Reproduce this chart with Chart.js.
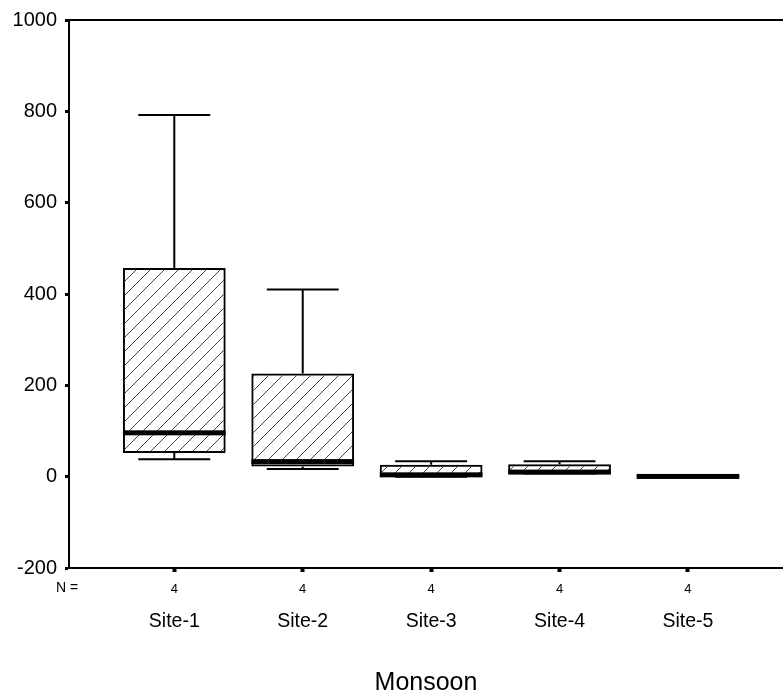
<!DOCTYPE html>
<html>
<head>
<meta charset="utf-8">
<script src="https://cdn.jsdelivr.net/npm/chart.js@4.4.1/dist/chart.umd.min.js"></script>
<style>
  body { margin: 0; background: #fff; }
  canvas { display: block; }
</style>
</head>
<body>
<canvas id="boxChart" width="783" height="696"></canvas>
<script>
// box plot values per site
const sites = ['Site-1', 'Site-2', 'Site-3', 'Site-4', 'Site-5'];
const nCounts = [4, 4, 4, 4, 4];
const whiskerLow = [38, 17, 0, 7, 0];
const q1 = [52, 22, 1, 8, 0];
const median = [96, 33, 4, 10, 0.5];
const q3 = [457, 226, 26, 27, 1];
const whiskerHigh = [792, 410, 34, 34, 1.5];
const yMin = -200, yMax = 1000, yStep = 200;
const xTitle = 'Monsoon';

function hatchPattern() {
  const c = document.createElement('canvas');
  c.width = c.height = 14;
  const g = c.getContext('2d');
  g.strokeStyle = '#444';
  g.lineWidth = 1;
  g.beginPath();
  g.moveTo(0, 14); g.lineTo(14, 0);
  g.moveTo(-7, 7); g.lineTo(7, -7);
  g.moveTo(7, 21); g.lineTo(21, 7);
  g.stroke();
  return g.createPattern(c, 'repeat');
}

// whiskers, caps, medians, top frame line and the "N =" label
const boxExtras = {
  id: 'boxExtras',
  beforeDatasetsDraw(chart) {
    const {ctx, chartArea} = chart;
    const y = chart.scales.y;
    const meta = chart.getDatasetMeta(0);
    ctx.save();
    ctx.strokeStyle = '#000';
    ctx.lineWidth = 2;
    meta.data.forEach((bar, i) => {
      const capHalf = bar.width * 0.35;
      const yHi = y.getPixelForValue(whiskerHigh[i]);
      const yLo = y.getPixelForValue(whiskerLow[i]);
      ctx.beginPath();
      ctx.moveTo(bar.x, y.getPixelForValue(q3[i])); ctx.lineTo(bar.x, yHi);
      ctx.moveTo(bar.x - capHalf, yHi); ctx.lineTo(bar.x + capHalf, yHi);
      ctx.moveTo(bar.x, y.getPixelForValue(q1[i])); ctx.lineTo(bar.x, yLo);
      ctx.moveTo(bar.x - capHalf, yLo); ctx.lineTo(bar.x + capHalf, yLo);
      ctx.stroke();
    });
    ctx.beginPath();
    ctx.moveTo(chartArea.left, chartArea.top);
    ctx.lineTo(chartArea.right, chartArea.top);
    ctx.stroke();
    ctx.restore();
  },
  afterDatasetsDraw(chart) {
    const {ctx, chartArea} = chart;
    const y = chart.scales.y;
    const meta = chart.getDatasetMeta(0);
    ctx.save();
    ctx.fillStyle = '#000';
    meta.data.forEach((bar, i) => {
      const ym = y.getPixelForValue(median[i]);
      ctx.fillRect(bar.x - bar.width / 2, ym - 2.5, bar.width, 5);
    });
    ctx.font = '14px "Liberation Sans", Arial, sans-serif';
    ctx.textAlign = 'center';
    ctx.textBaseline = 'middle';
    ctx.fillText('N =', chartArea.left - 2, chart.scales.x.top + 20);
    ctx.restore();
  }
};

const ctx = document.getElementById('boxChart').getContext('2d');
Chart.defaults.font.family = '"Liberation Sans", Arial, sans-serif';
Chart.defaults.color = '#000';

const xMin = 0.18, xMax = 5.74;

new Chart(ctx, {
  type: 'bar',
  data: {
    datasets: [{
      label: 'box',
      data: sites.map((s, i) => ({x: i + 1, y: [q1[i], q3[i]]})),
      backgroundColor: hatchPattern(),
      borderColor: '#000',
      borderWidth: 2,
      borderSkipped: false,
      categoryPercentage: 1,
      barPercentage: 0.8,
      xAxisID: 'x'
    }]
  },
  options: {
    responsive: false,
    animation: false,
    layout: { padding: { top: 17, right: 0, left: 0, bottom: 0 } },
    plugins: { legend: { display: false }, tooltip: { enabled: false } },
    scales: {
      y: {
        min: yMin,
        max: yMax,
        afterFit(s) { s.width = 69; },
        ticks: { stepSize: yStep, padding: 8, font: { size: 20 }, color: '#000', callback: v => String(v) },
        grid: { drawOnChartArea: false, drawTicks: true, tickLength: 4, tickWidth: 3, tickColor: '#000' },
        border: { display: true, color: '#000', width: 2 }
      },
      x: {
        type: 'linear',
        position: 'bottom',
        weight: 0,
        offset: false,
        min: xMin,
        max: xMax,
        afterFit(s) { s.height = 32; },
        afterBuildTicks(s) { s.ticks = sites.map((_, i) => ({value: i + 1})); },
        ticks: {
          padding: 10,
          font: { size: 13 },
          color: '#000',
          maxRotation: 0,
          autoSkip: false,
          callback: (v, i) => String(nCounts[i])
        },
        grid: { offset: false, drawOnChartArea: false, drawTicks: true, tickLength: 4, tickWidth: 4, tickColor: '#000' },
        border: { display: true, color: '#000', width: 2 }
      },
      xSite: {
        type: 'linear',
        position: 'bottom',
        weight: 1,
        offset: false,
        min: xMin,
        max: xMax,
        afterFit(s) { s.height = 96; },
        afterBuildTicks(s) { s.ticks = sites.map((_, i) => ({value: i + 1})); },
        ticks: {
          padding: 2,
          font: { size: 19.5 },
          color: '#000',
          maxRotation: 0,
          autoSkip: false,
          callback: (v, i) => sites[i]
        },
        grid: { display: false, offset: false },
        border: { display: false },
        title: { display: true, text: xTitle, font: { size: 25 }, color: '#000', padding: { top: 0, bottom: -2 } }
      }
    }
  },
  plugins: [boxExtras]
});
</script>
</body>
</html>
